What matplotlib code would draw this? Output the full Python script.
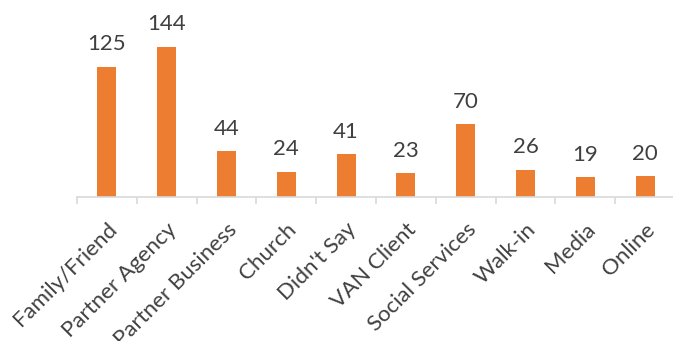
import matplotlib
matplotlib.use("Agg")
import matplotlib.pyplot as plt

categories = ["Family/Friend", "Partner Agency", "Partner Business", "Church", "Didn't Say",
              "VAN Client", "Social Services", "Walk-in", "Media", "Online"]
values = [125, 144, 44, 24, 41, 23, 70, 26, 19, 20]

plt.rcParams['font.family'] = ['Lato', 'DejaVu Sans']

fig = plt.figure(figsize=(6.73, 3.41), dpi=100)
ax = fig.add_axes([77/673, 144/341, 598/673, 166.7/341])
x = list(range(len(categories)))
ax.bar(x, values, width=0.32, color="#ED7D31")
for xi, v in zip(x, values):
    ax.annotate(str(v), (xi, v), xytext=(0, 9), textcoords="offset points",
                ha="center", va="bottom", fontsize=16, color="#404040")
ax.set_xlim(-0.5, len(categories) - 0.5)
ax.set_ylim(0, 160)
for s in ["top", "right", "left"]:
    ax.spines[s].set_visible(False)
ax.spines["bottom"].set_color("#D9D9D9")
ax.spines["bottom"].set_linewidth(1.2)
ax.set_yticks([])
ax.set_xticks([i + 0.5 for i in range(-1, len(categories))], minor=False)
ax.set_xticklabels([])
ax.tick_params(axis="x", which="major", length=5, color="#D9D9D9", width=1.2)
ax.set_xticks(x, minor=True)
ax.set_xticklabels(categories, minor=True, rotation=45, ha="right",
                   rotation_mode="anchor", fontsize=16, color="#404040")
ax.tick_params(axis="x", which="minor", length=0, pad=16)
fig.savefig("out.png", dpi=100)
